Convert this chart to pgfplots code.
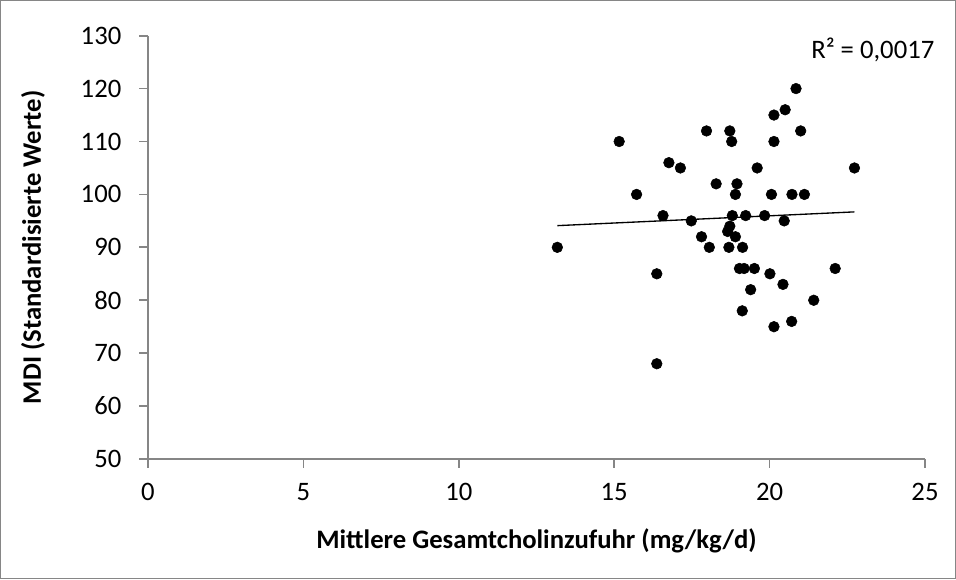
\documentclass[border=0pt]{standalone}
\usepackage{pgfplots}
\pgfplotsset{compat=1.18}
\usepackage{fontspec}
\setmainfont{Carlito}
\definecolor{axisgray}{HTML}{868686}
\begin{document}
\begin{tikzpicture}
\begin{axis}[
  at={(0,0)}, anchor=south west,
  scale only axis,
  width=582.75pt, height=317.5pt,
  xmin=0, xmax=25, ymin=50, ymax=130,
  xtick={0,5,10,15,20,25},
  ytick={50,60,...,130},
  axis x line*=bottom, axis y line*=left,
  axis line style={axisgray, line width=1.3pt},
  tick style={axisgray, line width=1.3pt},
  tick align=outside, major tick length=6.5pt,
  every tick label/.append style={font=\fontsize{20}{24}\selectfont, text=black},
  /pgf/number format/assume math mode=true,
  xticklabel style={yshift=-8pt},
  yticklabel style={xshift=-10pt},
  xlabel={\textbf{Mittlere Gesamtcholinzufuhr (mg/kg/d)}},
  ylabel={\textbf{MDI (Standardisierte Werte)}},
  label style={font=\fontsize{20}{24}\selectfont},
  xlabel style={yshift=-14pt},
  ylabel style={yshift=20pt},
  clip=false,
]
\addplot[only marks, mark=*, mark size=4pt, mark options={fill=black, draw=black}] coordinates {
(15.16,110) (17.97,112) (18.72,112) (18.78,110) (20.85,120) (20.50,116)
(20.14,115) (21.00,112) (20.14,110) (16.76,106) (17.13,105) (19.60,105)
(22.73,105) (15.72,100) (18.28,102) (18.95,102) (18.90,100) (20.06,100)
(20.72,100) (21.12,100) (16.57,96) (17.48,95) (18.80,96) (19.23,96)
(19.84,96) (20.47,95) (18.72,94) (18.65,93) (18.90,92) (17.81,92)
(18.06,90) (18.69,90) (19.13,90) (13.17,90) (16.37,85) (19.03,86)
(19.18,86) (19.51,86) (20.01,85) (22.11,86) (20.43,83) (19.39,82)
(21.42,80) (19.12,78) (20.71,76) (20.14,75) (16.37,68)
};
\addplot[black, line width=1pt] coordinates {(13.17,94.1) (22.73,96.7)};
\node[anchor=east, font=\fontsize{20}{24}\selectfont] at (axis cs:25.45,127.3) {R² = 0,0017};
\end{axis}
\draw[axisgray, line width=0.8pt] (-110.6pt,-89.6pt) rectangle (605.6pt,343.85pt);
\end{tikzpicture}
\end{document}
